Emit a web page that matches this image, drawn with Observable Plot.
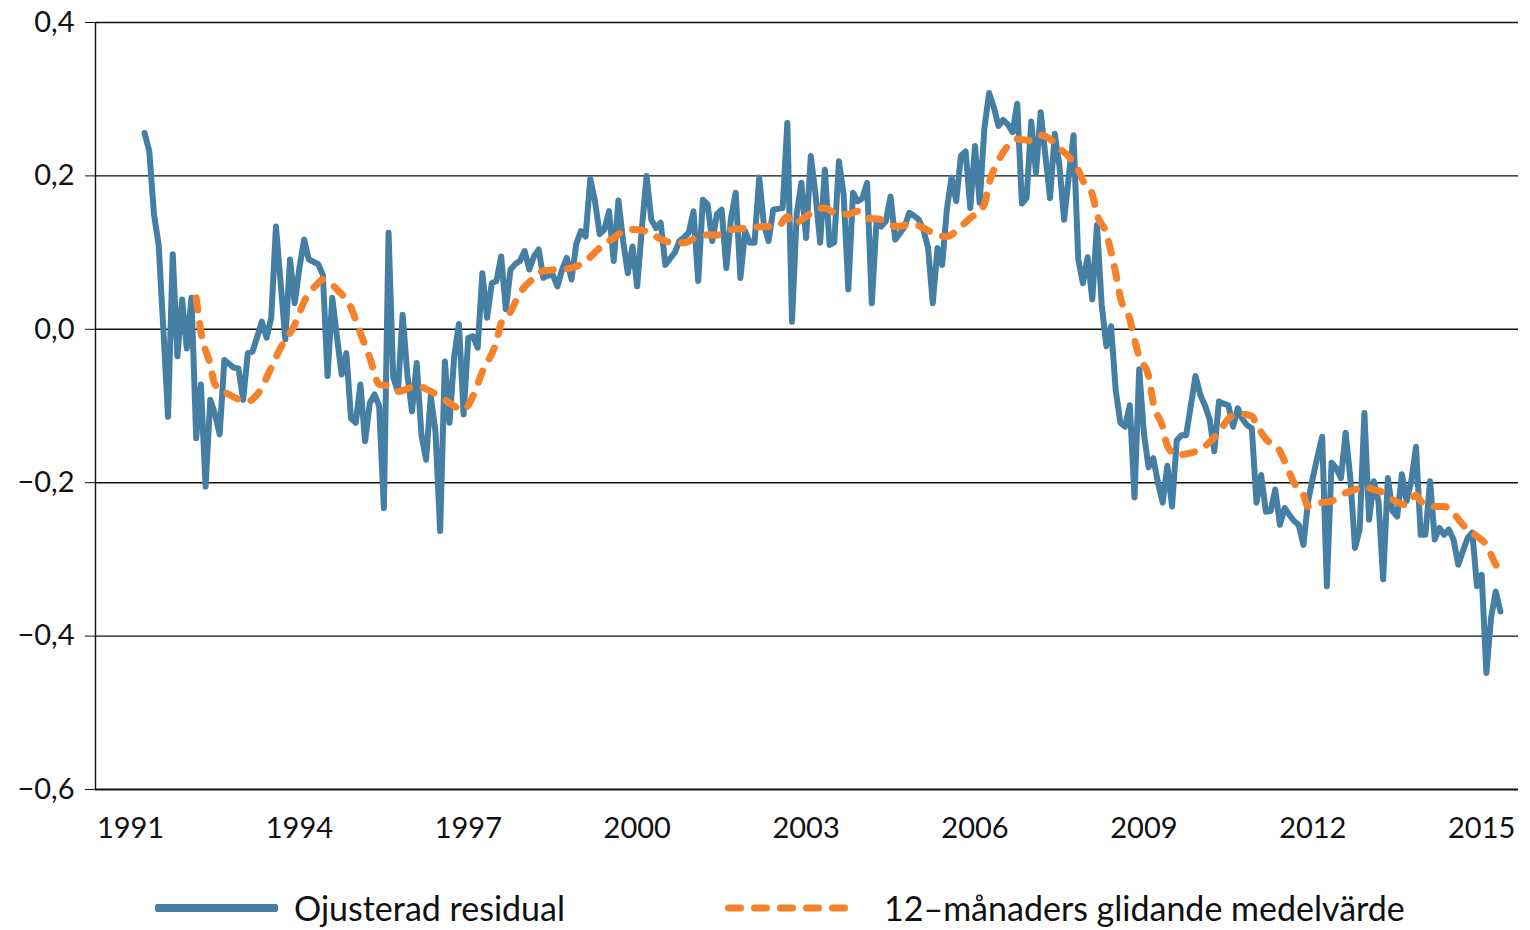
<!DOCTYPE html>
<html><head><meta charset="utf-8">
<script src="https://cdn.jsdelivr.net/npm/d3@7"></script>
<script src="https://cdn.jsdelivr.net/npm/@observablehq/plot@0.6"></script>
<style>
body{margin:0;background:#fff;font-family:Lato,sans-serif;}
#wrap{position:relative;width:1530px;height:930px;overflow:hidden;}
.lt{position:absolute;top:887px;height:42px;line-height:42px;font-size:34px;color:#111;white-space:nowrap;}
</style></head><body>
<div id="wrap"><div id="chart"></div>
<div style="position:absolute;left:155px;top:904px;width:123px;height:8px;background:#457fa4;border-radius:2px;"></div>
<div class="lt" style="left:294px;">Ojusterad residual</div>
<svg style="position:absolute;left:720px;top:898px;" width="140" height="20"><line x1="8.5" y1="10" x2="128" y2="10" stroke="#f5822a" stroke-width="7" stroke-dasharray="12,14" stroke-linecap="round"/></svg>
<div class="lt" style="left:884px;">12–månaders glidande medelvärde</div>
</div>
<script>
// first observation: April 1991 (monthly)
const startYear = 1991, startMonth = 4;
const residual = [
 0.256, 0.232, 0.15, 0.11, 0.0, -0.114, 0.098, -0.035, 0.039, -0.025,
 0.041, -0.142, -0.072, -0.205, -0.092, -0.11, -0.137, -0.04, -0.045, -0.05,
 -0.051, -0.092, -0.031, -0.029, -0.01, 0.01, -0.011, 0.015, 0.134, 0.06,
 -0.013, 0.091, 0.034, 0.08, 0.117, 0.091, 0.088, 0.085, 0.071, -0.061,
 0.041, -0.01, -0.059, -0.031, -0.116, -0.122, -0.072, -0.146, -0.096, -0.085,
 -0.1, -0.233, 0.126, -0.063, -0.081, 0.019, -0.059, -0.107, -0.044, -0.137,
 -0.17, -0.087, -0.133, -0.263, -0.042, -0.122, -0.035, 0.007, -0.111, -0.011,
 -0.009, -0.024, 0.073, 0.015, 0.06, 0.063, 0.095, 0.026, 0.078, 0.085,
 0.089, 0.102, 0.078, 0.095, 0.104, 0.067, 0.07, 0.071, 0.056, 0.078,
 0.093, 0.065, 0.111, 0.128, 0.121, 0.196, 0.167, 0.124, 0.13, 0.154,
 0.089, 0.168, 0.115, 0.073, 0.108, 0.056, 0.132, 0.2, 0.143, 0.132,
 0.139, 0.084, 0.092, 0.1, 0.115, 0.12, 0.126, 0.154, 0.063, 0.169,
 0.163, 0.115, 0.15, 0.156, 0.08, 0.145, 0.178, 0.067, 0.128, 0.113,
 0.113, 0.198, 0.137, 0.115, 0.156, 0.157, 0.158, 0.269, 0.01, 0.15,
 0.191, 0.119, 0.226, 0.176, 0.113, 0.208, 0.11, 0.113, 0.219, 0.176,
 0.052, 0.178, 0.167, 0.171, 0.191, 0.034, 0.139, 0.134, 0.141, 0.173,
 0.117, 0.125, 0.134, 0.152, 0.148, 0.143, 0.13, 0.106, 0.034, 0.106,
 0.084, 0.156, 0.198, 0.167, 0.226, 0.232, 0.158, 0.239, 0.165, 0.262,
 0.308, 0.29, 0.265, 0.273, 0.267, 0.257, 0.294, 0.164, 0.171, 0.271,
 0.204, 0.283, 0.227, 0.171, 0.255, 0.213, 0.143, 0.2, 0.253, 0.092,
 0.06, 0.094, 0.039, 0.136, 0.032, -0.022, 0.004, -0.08, -0.122, -0.127,
 -0.099, -0.219, -0.052, -0.136, -0.18, -0.168, -0.2, -0.226, -0.178, -0.231,
 -0.145, -0.138, -0.138, -0.1, -0.061, -0.085, -0.099, -0.117, -0.159, -0.094,
 -0.097, -0.099, -0.127, -0.103, -0.117, -0.125, -0.129, -0.226, -0.19, -0.238,
 -0.237, -0.209, -0.255, -0.233, -0.242, -0.25, -0.255, -0.281, -0.224, -0.194,
 -0.166, -0.14, -0.335, -0.174, -0.181, -0.194, -0.135, -0.194, -0.285, -0.261,
 -0.109, -0.248, -0.198, -0.224, -0.326, -0.194, -0.237, -0.244, -0.189, -0.224,
 -0.198, -0.153, -0.268, -0.268, -0.198, -0.274, -0.259, -0.268, -0.261, -0.274,
 -0.307, -0.289, -0.272, -0.265, -0.335, -0.32, -0.448, -0.376, -0.342, -0.368
];
// 12-month moving average, read at months (index from April 1991)
const maMonth = [11,12,14,15,18,22,24,27,29,32,34,37,38,41,44,46,48,50,52,54,58,61,64,66,68,70,72,75,76,78,80,83,85,88,91,94,97,100,103,104,108,109,113,115,118,120,122,125,129,132,135,137,138,141,143,145,147,150,152,154,157,160,164,166,169,171,174,176,179,180,182,184,186,189,191,193,195,197,199,200,202,203,205,206,207,208,210,211,212,214,215,217,218,220,223,225,227,229,231,233,236,237,239,242,243,245,247,248,251,253,255,258,260,262,264,266,269,271,272,274,277,279,281,284,286,288,289];
const maValue = [0.041,-0.003,-0.046,-0.072,-0.085,-0.094,-0.085,-0.05,-0.024,0.006,0.036,0.06,0.065,0.052,0.028,-0.005,-0.037,-0.072,-0.074,-0.081,-0.074,-0.081,-0.092,-0.1,-0.105,-0.087,-0.055,-0.016,0.008,0.023,0.047,0.067,0.076,0.078,0.08,0.089,0.106,0.119,0.13,0.13,0.126,0.121,0.113,0.113,0.121,0.123,0.123,0.13,0.132,0.134,0.134,0.147,0.137,0.147,0.156,0.158,0.152,0.15,0.154,0.145,0.143,0.134,0.137,0.132,0.123,0.121,0.134,0.145,0.163,0.19,0.22,0.239,0.248,0.246,0.253,0.248,0.236,0.225,0.208,0.194,0.176,0.15,0.125,0.101,0.073,0.041,0.013,-0.013,-0.036,-0.061,-0.096,-0.127,-0.152,-0.164,-0.161,-0.157,-0.147,-0.134,-0.117,-0.11,-0.113,-0.124,-0.143,-0.159,-0.172,-0.2,-0.216,-0.231,-0.226,-0.224,-0.216,-0.209,-0.205,-0.209,-0.213,-0.222,-0.229,-0.216,-0.224,-0.231,-0.231,-0.24,-0.255,-0.27,-0.281,-0.307,-0.315];
const xTicks = [1991, 1994, 1997, 2000, 2003, 2006, 2009, 2012, 2015];
const yTicks = [-0.6, -0.4, -0.2, 0, 0.2, 0.4];

const toYear = i => startYear + (startMonth - 1 + i) / 12;
const resData = residual.map((v, i) => ({t: toYear(i), v}));
const maData = maMonth.map((m, k) => ({t: toYear(m), v: maValue[k]}));
const xMin = 1990.378, xMax = 2015.654;
const fmtY = d => d.toFixed(1).replace(".", ",").replace("-", "\u2212");

const chart = Plot.plot({
  width: 1530, height: 860,
  marginLeft: 95, marginRight: 12, marginTop: 22, marginBottom: 71,
  style: {fontFamily: "Lato, sans-serif", fontSize: "29px", color: "#111", background: "#fff", overflow: "visible"},
  x: {domain: [xMin, xMax], ticks: xTicks, tickFormat: d => String(d), tickSize: 0, tickPadding: 28, label: null},
  y: {domain: [-0.6, 0.4], ticks: yTicks, tickFormat: fmtY, tickSize: 10, tickPadding: 11, label: null},
  marks: [
    Plot.ruleY(yTicks.filter(d => d > -0.6), {stroke: "#111", strokeWidth: 1.4}),
    Plot.ruleY([-0.6], {stroke: "#111", strokeWidth: 2.2}),
    Plot.ruleX([xMin], {stroke: "#111", strokeWidth: 1.4}),
    Plot.line(resData, {x: "t", y: "v", stroke: "#457fa4", strokeWidth: 6, strokeLinejoin: "round", strokeLinecap: "round"}),
    Plot.line(maData, {x: "t", y: "v", stroke: "#f5822a", strokeWidth: 7, strokeDasharray: "12,14", strokeLinecap: "round", curve: "monotone-x"})
  ]
});
document.getElementById("chart").appendChild(chart);
</script>
</body></html>
